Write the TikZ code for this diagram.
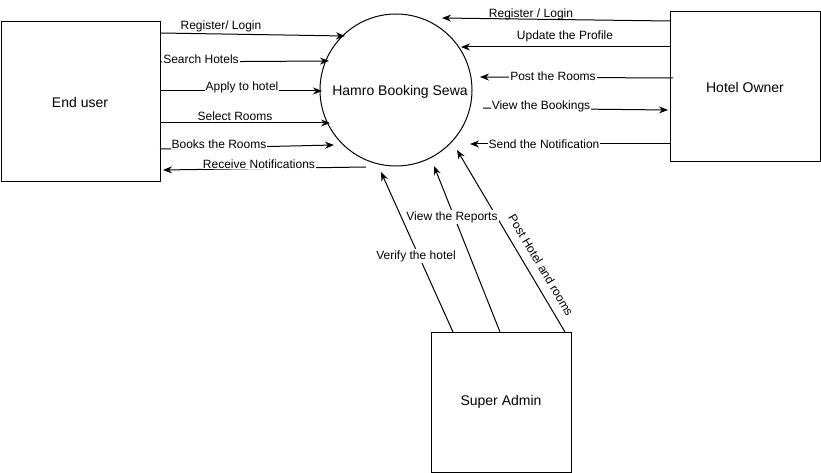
\documentclass[tikz,border=0pt]{standalone}
\usepackage{fontspec}
\setmainfont{Liberation Sans}
\usetikzlibrary{arrows.meta}
\begin{document}
\begin{tikzpicture}[x=1pt,y=-1pt,
  ent/.style={draw=black,line width=1pt},
  ttl/.style={font=\fontsize{14}{16}\selectfont},
  flow/.style={draw=black,line width=1pt,-{Stealth[length=9pt,width=7pt]}},
  lbl/.style={font=\fontsize{12}{14}\selectfont,inner sep=1pt},
  lblw/.style={lbl,fill=white}]
\useasboundingbox (0,0) rectangle (821,473);
% entities
\draw[ent] (1,22) rectangle (160,182);
\node[ttl] (eu) at (80,102) {End user};
\draw[ent] (670,12) rectangle (820,162);
\node[ttl] (ho) at (745,87) {Hotel Owner};
\draw[ent] (431,332) rectangle (571,472);
\node[ttl] (sa) at (501,402) {Super Admin};
\draw[ent] (396,90) circle[radius=76];
\node[ttl] (hb) at (400,92) {Hamro Booking Sewa};
% end points
\coordinate (a1) at (160,33); \coordinate (b1) at (345,36);
\coordinate (a2) at (160,62); \coordinate (b2) at (329,61);
\coordinate (a3) at (160,91); \coordinate (b3) at (322,91);
\coordinate (a4) at (160,123); \coordinate (b4) at (330,123);
\coordinate (a5) at (160,149); \coordinate (b5) at (334,145);
\coordinate (a6) at (366,167); \coordinate (b6) at (163,170);
\coordinate (c1) at (670,21); \coordinate (d1) at (442,18);
\coordinate (c2) at (670,47); \coordinate (d2) at (461,47);
\coordinate (c3) at (673,78); \coordinate (d3) at (480,77);
\coordinate (c4) at (483,108); \coordinate (d4) at (668,110);
\coordinate (c5) at (670,144); \coordinate (d5) at (470,144);
\coordinate (e1) at (453,332); \coordinate (f1) at (381,172);
\coordinate (e2) at (500,332); \coordinate (f2) at (434,166);
\coordinate (e3) at (565,332); \coordinate (f3) at (457,150);
% flows
\draw[flow] (a1) -- (b1);
\draw[flow] (a2) -- (b2);
\draw[flow] (a3) -- (b3);
\draw[flow] (a4) -- (b4);
\draw[flow] (a5) -- (b5);
\draw[flow] (a6) -- (b6);
\draw[flow] (c1) -- (d1);
\draw[flow] (c2) -- (d2);
\draw[flow] (c3) -- (d3);
\draw[flow] (c4) -- (d4);
\draw[flow] (c5) -- (d5);
\draw[flow] (e1) -- (f1);
\draw[flow] (e2) -- (f2);
\draw[flow] (e3) -- (f3);
% labels
\node[lbl] (l1) at (221,26) {Register/ Login};
\node[lblw] (l2) at (201,59) {Search Hotels};
\node[lblw] (l3) at (242,87) {Apply to hotel};
\node[lbl] (l4) at (235,116) {Select Rooms};
\node[lblw] (l5) at (219,144) {Books the Rooms};
\node[lblw] (l6) at (259,164) {Receive Notifications};
\node[lbl] (r1) at (531,14) {Register / Login};
\node[lbl] (r2) at (565,36) {Update the Profile};
\node[lblw] (r3) at (553,76) {Post the Rooms};
\node[lblw] (r4) at (541,106) {View the Bookings};
\node[lblw] (r5) at (544,144) {Send the Notification};
\node[lblw] (s1) at (416,256) {Verify the hotel};
\node[lblw] (s2) at (452,217) {View the Reports};
\node[lbl,rotate=-59.3] (s3) at (541,265) {Post Hotel and rooms};
\end{tikzpicture}
\end{document}
